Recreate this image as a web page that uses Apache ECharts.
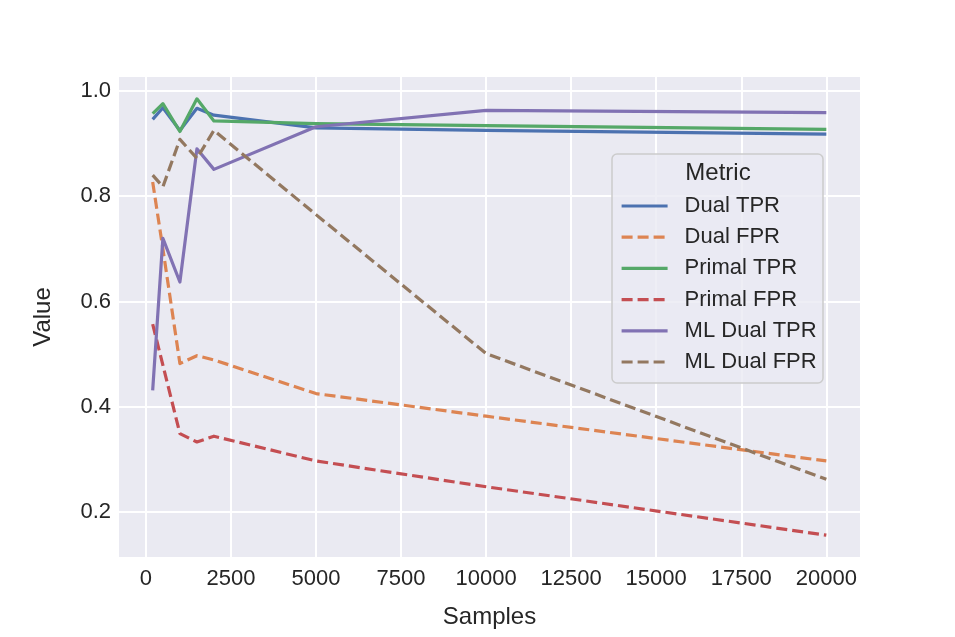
<!DOCTYPE html>
<html>
<head>
<meta charset="utf-8">
<script src="https://cdn.jsdelivr.net/npm/echarts@6/dist/echarts.min.js"></script>
<style>
  html, body { margin: 0; padding: 0; background: #fff; }
  #chart { width: 955px; height: 637px; }
</style>
</head>
<body>
<div id="chart"></div>
<script>
// samples on the x axis, one value per metric per sample size
var samples = [200, 500, 1000, 1500, 2000, 5000, 10000, 20000];
var dualTPR   = [0.946, 0.968, 0.925, 0.967, 0.954, 0.930, 0.925, 0.918];
var dualFPR   = [0.827, 0.700, 0.482, 0.497, 0.489, 0.425, 0.382, 0.297];
var primalTPR = [0.957, 0.976, 0.923, 0.985, 0.943, 0.938, 0.934, 0.927];
var primalFPR = [0.557, 0.479, 0.349, 0.333, 0.344, 0.297, 0.248, 0.156];
var mlDualTPR = [0.431, 0.720, 0.637, 0.890, 0.851, 0.932, 0.963, 0.959];
var mlDualFPR = [0.840, 0.818, 0.908, 0.872, 0.925, 0.765, 0.501, 0.262];

var xTicks = [0, 2500, 5000, 7500, 10000, 12500, 15000, 17500, 20000];
var yTicks = [0.2, 0.4, 0.6, 0.8, 1.0];

var metrics = [
  {name: 'Dual TPR', values: dualTPR, color: '#4C72B0', dashed: false},
  {name: 'Dual FPR', values: dualFPR, color: '#DD8452', dashed: true},
  {name: 'Primal TPR', values: primalTPR, color: '#55A868', dashed: false},
  {name: 'Primal FPR', values: primalFPR, color: '#C44E52', dashed: true},
  {name: 'ML Dual TPR', values: mlDualTPR, color: '#8172B3', dashed: false},
  {name: 'ML Dual FPR', values: mlDualFPR, color: '#937860', dashed: true}
];

var font = 'Liberation Sans, Arial, sans-serif';
var ink = '#262626';

var series = metrics.map(function (m) {
  return {
    name: m.name,
    type: 'line',
    symbol: 'none',
    data: samples.map(function (s, i) { return [s, m.values[i]]; }),
    lineStyle: {
      color: m.color,
      width: 3.2,
      type: m.dashed ? [11, 5] : 'solid',
      cap: 'butt',
      join: 'round'
    },
    itemStyle: {color: m.color},
    z: 2
  };
});

var chart = echarts.init(document.getElementById('chart'));
chart.setOption({
  animation: false,
  backgroundColor: '#ffffff',
  grid: {
    left: 119, right: 95, top: 77, bottom: 80,
    show: true, backgroundColor: '#EAEAF2', borderWidth: 0
  },
  xAxis: {
    type: 'value',
    min: -790, max: 20990,
    name: 'Samples',
    nameLocation: 'middle',
    nameGap: 48,
    nameTextStyle: {fontFamily: font, fontSize: 24, color: ink},
    axisLine: {show: false},
    axisTick: {show: false, customValues: xTicks},
    axisLabel: {
      customValues: xTicks,
      formatter: function (v) { return String(v); },
      fontFamily: font, fontSize: 22, color: ink, margin: 11
    },
    splitLine: {show: true, lineStyle: {color: '#ffffff', width: 2}}
  },
  yAxis: {
    type: 'value',
    min: 0.1145, max: 1.0265,
    name: 'Value',
    nameLocation: 'middle',
    nameGap: 64,
    nameRotate: 90,
    nameTextStyle: {fontFamily: font, fontSize: 24, color: ink},
    axisLine: {show: false},
    axisTick: {show: false, customValues: yTicks},
    axisLabel: {
      customValues: yTicks,
      formatter: function (v) { return v.toFixed(1); },
      fontFamily: font, fontSize: 22, color: ink, margin: 8
    },
    splitLine: {show: true, lineStyle: {color: '#ffffff', width: 2}}
  },
  legend: {
    orient: 'vertical',
    left: 620, top: 195,
    padding: 0,
    itemWidth: 46,
    itemHeight: 14,
    itemGap: 9.2,
    data: metrics.map(function (m) { return m.name; }),
    itemStyle: {opacity: 0},
    lineStyle: {width: 3.2},
    textStyle: {fontFamily: font, fontSize: 22, lineHeight: 22, color: ink, padding: [0, 0, 0, 12]},
    selectedMode: false,
    z: 5
  },
  graphic: [
    {
      type: 'rect', z: 4,
      shape: {x: 612, y: 154, width: 211, height: 229, r: 5},
      style: {fill: 'rgba(234,234,242,0.8)', stroke: '#CCCCCC', lineWidth: 1.5}
    },
    {
      type: 'text', z: 5,
      x: 718, y: 173,
      style: {
        text: 'Metric', fontFamily: font, fontSize: 24, fill: ink,
        textAlign: 'center', textVerticalAlign: 'middle'
      }
    }
  ],
  series: series
});
</script>
</body>
</html>
